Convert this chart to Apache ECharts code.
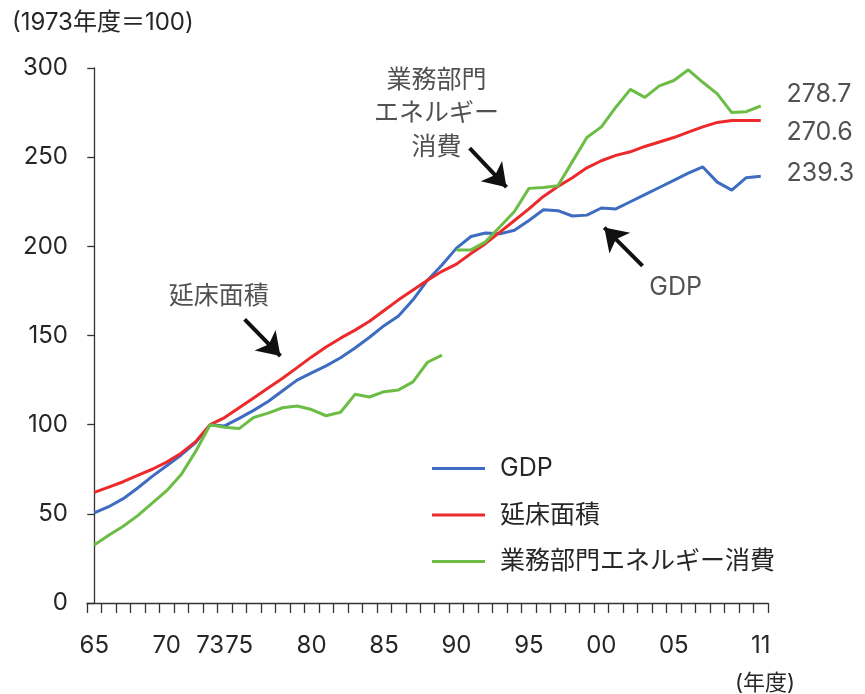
<!DOCTYPE html>
<html><head><meta charset="utf-8">
<script src="https://cdn.jsdelivr.net/npm/echarts@6/dist/echarts.min.js"></script>
<style>html,body{margin:0;padding:0;background:#fff}#c{width:865px;height:694px}</style>
</head><body><div id="c"></div>
<script>
// ---- data ----
const years = [1965,1966,1967,1968,1969,1970,1971,1972,1973,1974,1975,1976,1977,1978,1979,1980,1981,1982,1983,1984,1985,1986,1987,1988,1989,1990,1991,1992,1993,1994,1995,1996,1997,1998,1999,2000,2001,2002,2003,2004,2005,2006,2007,2008,2009,2010,2011];
const labeledYears = [1965,1970,1973,1975,1980,1985,1990,1995,2000,2005,2011];
const yTicks = [0,50,100,150,200,250,300];
const gdp = [50.5,54,58.5,64.5,71,77,83,90,100,99.3,103.5,108,113,119,125,129,133,137.5,143,149,155.5,161,170,181,189.5,199,205.5,207.5,207,209,214.5,220.5,220,217,217.5,221.5,221,225,229,233,237,241,244.5,236,231.5,238.5,239.3];
const floorArea = [62,65,68,71.5,75,79,84,90.5,100,104,109.5,115,120.5,126,132,138,143.5,148.5,153,158,164,170,175.5,181,186,190,196,201.5,208,214.5,221,228,233.5,238.5,244,248,251,253,256,258.5,261,264,267,269.5,270.5,270.6,270.6];
const energy = [32.5,38,43,49,56,63,72,85,100,98.5,97.8,104,106.5,109.5,110.5,108.5,105,107,117,115.5,118.5,119.5,124,135,139,198,198,202.5,211,219.5,232.5,233,234,247.5,261,267,278,288,283.5,290,293,299,292,285.5,275,275.5,278.7];
const energyBreakYear = 1990; // statistical break: line not connected across it
const seriesNames = ['GDP','延床面積','業務部門エネルギー消費'];

// ---- styling / annotation layout ----
const FONT = "Inter,'Noto Sans CJK JP',sans-serif";
const TXT = '#262626';
const COLORS = ['#3d6cc0','#ec2a2c','#6cbd45'];
// annotation positions in (category index, value) space
const annoTexts = [
  {pos:[8.6,171.6], text:'延床面積'},
  {pos:[23.62,274.4], text:'業務部門\nエネルギー\n消費'},
  {pos:[40.12,177.2], text:'GDP'}
];
const endLabelPos = [
  {pos:[47.78,284.9], src: energy},
  {pos:[47.78,264.1], src: floorArea},
  {pos:[47.78,241.1], src: gdp}
];
const arrows = [
  [10.38,159.1,12.85,138.5],
  [25.91,255.1,28.45,233.2],
  [37.84,189.0,35.2,210.5]
];

const energyA = energy.map((v,i)=> years[i] < energyBreakYear ? v : null);
const energyB = energy.map((v,i)=> years[i] >= energyBreakYear ? v : null);

const chart = echarts.init(document.getElementById('c'), null, {renderer:'canvas'});
const lineBase = {type:'line', symbol:'none', showSymbol:false, xAxisIndex:0, yAxisIndex:0, silent:true};
chart.setOption({
  animation:false,
  backgroundColor:'#fff',
  textStyle:{fontFamily:FONT},
  title:[
    {text:'(1973年度＝100)', left:12, top:11, padding:0, textStyle:{fontSize:24, fontWeight:'normal', color:TXT, fontFamily:FONT}},
    {text:'(年度)', left:735, top:672, padding:0, textStyle:{fontSize:22, fontWeight:'normal', color:TXT, fontFamily:FONT}}
  ],
  grid:{left:87, right:97, top:68, bottom:91, containLabel:false},
  legend:{
    data:seriesNames, orient:'vertical', left:427, top:451, itemWidth:53, itemHeight:3, itemGap:21.5, icon:'rect',
    textStyle:{fontSize:25, color:TXT, fontFamily:FONT, padding:[0,0,0,10]}, selectedMode:false
  },
  xAxis:[
    {type:'category', data:years, boundaryGap:true,
     axisLine:{lineStyle:{color:'#333', width:1.3}},
     axisTick:{show:true, interval:0, length:10, lineStyle:{color:'#333', width:1.3}},
     axisLabel:{interval:(i,v)=>labeledYears.includes(+v), formatter:v=>String(v).slice(2), fontSize:24, color:TXT, margin:31, fontFamily:FONT},
     splitLine:{show:false}},
    {type:'value', min:-0.5, max:years.length-0.5, show:false}
  ],
  yAxis:{type:'value', min:yTicks[0], max:yTicks[yTicks.length-1], interval:yTicks[1]-yTicks[0],
    axisLine:{show:true, lineStyle:{color:'#333', width:1.3}},
    axisTick:{show:true, length:7, lineStyle:{color:'#333', width:1.3}},
    axisLabel:{fontSize:24, color:TXT, margin:19, fontFamily:FONT},
    splitLine:{show:false}},
  series:[
    Object.assign({}, lineBase, {name:seriesNames[0], data:gdp, color:COLORS[0], lineStyle:{width:3, color:COLORS[0]}, z:3}),
    Object.assign({}, lineBase, {name:seriesNames[1], data:floorArea, color:COLORS[1], lineStyle:{width:3, color:COLORS[1]}, z:4}),
    Object.assign({}, lineBase, {name:seriesNames[2], data:energyA, color:COLORS[2], lineStyle:{width:3, color:COLORS[2]}, z:5}),
    Object.assign({}, lineBase, {name:seriesNames[2]+'_b', data:energyB, color:COLORS[2], lineStyle:{width:3, color:COLORS[2]}, z:5}),
    {type:'lines', coordinateSystem:'cartesian2d', xAxisIndex:1, yAxisIndex:0, silent:true, z:6,
     symbol:['none','arrow'], symbolSize:22,
     lineStyle:{color:'#111', width:4, opacity:1, curveness:0},
     data:arrows.map(a=>({coords:[[a[0],a[1]],[a[2],a[3]]]}))},
    {type:'scatter', xAxisIndex:1, yAxisIndex:0, symbolSize:0, clip:false, silent:true, z:7,
     data:annoTexts.map(a=>({value:a.pos, name:a.text})),
     label:{show:true, position:'inside', formatter:p=>p.name, color:TXT, fontSize:25, lineHeight:33.5, fontFamily:FONT, align:'center'}},
    {type:'scatter', xAxisIndex:1, yAxisIndex:0, symbolSize:0, clip:false, silent:true, z:7,
     data:endLabelPos.map(a=>({value:a.pos, name:a.src[a.src.length-1].toFixed(1)})),
     label:{show:true, position:'right', distance:0, formatter:p=>p.name, color:TXT, fontSize:25, fontFamily:FONT}}
  ]
});
</script>
</body></html>
